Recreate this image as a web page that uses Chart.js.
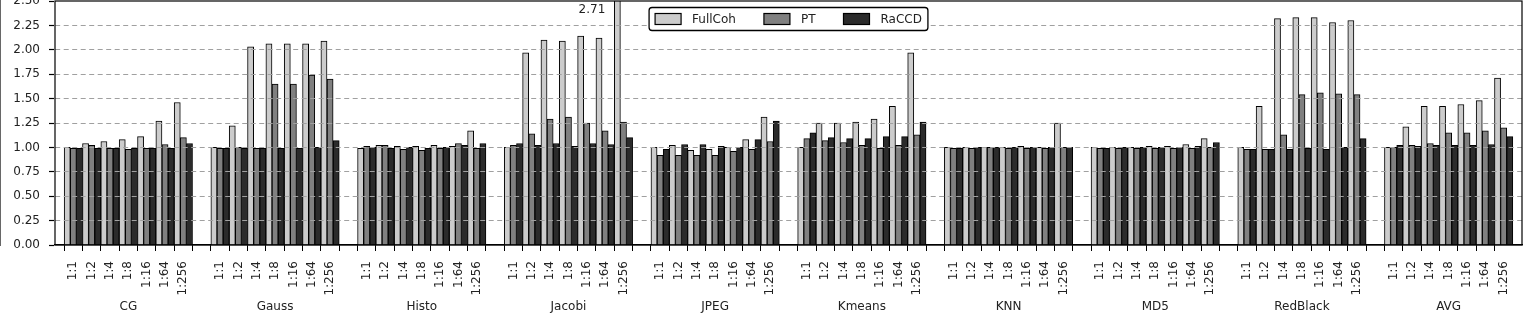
<!DOCTYPE html>
<html>
<head>
<meta charset="utf-8">
<script src="https://cdn.jsdelivr.net/npm/chart.js@4.4.1/dist/chart.umd.min.js"></script>
<style>
  html, body { margin: 0; padding: 0; background: #fff; }
</style>
</head>
<body>
<canvas id="chart" width="1527" height="317"></canvas>
<script>
// Benchmarks and ratios on the x axis
const GROUPS = ['CG', 'Gauss', 'Histo', 'Jacobi', 'JPEG', 'Kmeans', 'KNN', 'MD5', 'RedBlack', 'AVG'];
const RATIOS = ['1:1', '1:2', '1:4', '1:8', '1:16', '1:64', '1:256'];
const Y_TICKS = [0, 0.25, 0.5, 0.75, 1, 1.25, 1.5, 1.75, 2, 2.25, 2.5];

// one row per benchmark, one value per ratio
const FULLCOH = [
  [1.00, 1.04, 1.06, 1.08, 1.11, 1.27, 1.46],
  [1.00, 1.22, 2.03, 2.06, 2.06, 2.06, 2.09],
  [0.99, 1.02, 1.01, 1.01, 1.02, 1.01, 1.17],
  [1.00, 1.97, 2.10, 2.09, 2.14, 2.12, 2.71],
  [1.00, 1.02, 0.97, 0.98, 1.00, 1.08, 1.31],
  [1.00, 1.25, 1.25, 1.26, 1.29, 1.42, 1.97],
  [1.00, 1.00, 1.00, 1.00, 1.01, 1.00, 1.25],
  [1.00, 1.00, 1.00, 1.01, 1.01, 1.03, 1.09],
  [1.00, 1.42, 2.32, 2.33, 2.33, 2.28, 2.30],
  [1.00, 1.21, 1.42, 1.42, 1.44, 1.48, 1.71]
];
const PT = [
  [0.99, 1.02, 0.99, 0.98, 0.99, 1.03, 1.10],
  [0.99, 1.00, 0.99, 1.65, 1.65, 1.74, 1.70],
  [1.01, 1.02, 0.98, 0.97, 0.99, 1.04, 0.99],
  [1.02, 1.14, 1.29, 1.31, 1.25, 1.17, 1.26],
  [0.92, 0.92, 0.92, 0.92, 0.96, 0.98, 1.06],
  [1.09, 1.07, 1.05, 1.02, 0.99, 1.02, 1.13],
  [0.99, 0.99, 1.00, 0.99, 0.99, 0.99, 1.00],
  [0.99, 0.99, 0.99, 0.99, 0.99, 0.99, 1.00],
  [0.98, 0.98, 1.13, 1.54, 1.56, 1.55, 1.54],
  [1.00, 1.02, 1.04, 1.15, 1.15, 1.17, 1.20]
];
const RACCD = [
  [0.99, 0.99, 0.99, 0.99, 0.99, 0.99, 1.04],
  [0.99, 0.99, 0.99, 0.99, 0.99, 1.00, 1.07],
  [1.00, 0.99, 1.00, 0.99, 1.00, 1.02, 1.04],
  [1.04, 1.02, 1.04, 1.01, 1.04, 1.03, 1.10],
  [0.98, 1.03, 1.03, 1.01, 1.00, 1.08, 1.27],
  [1.15, 1.10, 1.09, 1.09, 1.11, 1.11, 1.26],
  [0.99, 1.00, 1.00, 1.00, 1.00, 1.00, 1.00],
  [0.99, 1.00, 1.00, 1.00, 1.00, 1.01, 1.05],
  [0.98, 0.98, 0.98, 0.99, 0.98, 1.00, 1.09],
  [1.02, 1.01, 1.02, 1.02, 1.02, 1.03, 1.11]
];

const FONT = '"DejaVu Sans", "Liberation Sans", sans-serif';
const INK = '#222';

// slot layout: empty slot at each edge and between benchmarks
const labels = [''];
const groupLabels = [''];
GROUPS.forEach((g, gi) => {
  RATIOS.forEach((r, k) => { labels.push(r); groupLabels.push(k === 3 ? g : ''); });
  if (gi < GROUPS.length - 1) { labels.push(''); groupLabels.push(''); }
});
labels.push(''); groupLabels.push('');

const flatten = (rows) => {
  const out = [null];
  rows.forEach((r, gi) => { out.push(...r); if (gi < rows.length - 1) out.push(null); });
  out.push(null);
  return out;
};

// box round the plot
const framePlugin = {
  id: 'frame',
  afterDraw(chart) {
    const { ctx, chartArea: a } = chart;
    ctx.save();
    ctx.strokeStyle = '#000';
    ctx.lineWidth = 1.2;
    ctx.strokeRect(a.left, a.top, a.right - a.left, a.bottom - a.top);
    ctx.restore();
  }
};

// value text next to bars cut by the top of the axis
const clipNotePlugin = {
  id: 'clipNote',
  afterDatasetsDraw(chart) {
    const { ctx } = chart;
    const max = chart.scales.y.max;
    ctx.save();
    ctx.font = '12px ' + FONT;
    ctx.fillStyle = INK;
    ctx.textAlign = 'right';
    ctx.textBaseline = 'middle';
    chart.data.datasets.forEach((ds, di) => {
      const meta = chart.getDatasetMeta(di);
      ds.data.forEach((v, i) => {
        if (v != null && v > max) {
          const bar = meta.data[i];
          ctx.fillText(v.toFixed(2), bar.x - bar.width / 2 - 9, chart.chartArea.top + 9);
        }
      });
    });
    ctx.restore();
  }
};

// legend in a rounded box at the top centre of the plot
const boxLegendPlugin = {
  id: 'boxLegend',
  afterDraw(chart) {
    const { ctx, chartArea: a } = chart;
    ctx.save();
    ctx.font = '12px ' + FONT;
    const sw = 26, sh = 11, gapIn = 11, gapOut = 28, padX = 6, h = 23;
    const items = chart.data.datasets.map(d => ({ label: d.label, color: d.backgroundColor, w: ctx.measureText(d.label).width }));
    const w = padX * 2 + items.reduce((s, it) => s + sw + gapIn + it.w, 0) + gapOut * (items.length - 1);
    const x0 = (a.left + a.right) / 2 - w / 2;
    const y0 = a.top + 6.5;
    ctx.beginPath();
    ctx.roundRect(x0, y0, w, h, 3);
    ctx.fillStyle = '#fff';
    ctx.fill();
    ctx.lineWidth = 1.3;
    ctx.strokeStyle = '#000';
    ctx.stroke();
    let x = x0 + padX;
    ctx.textBaseline = 'middle';
    items.forEach(it => {
      ctx.fillStyle = it.color;
      ctx.fillRect(x, y0 + (h - sh) / 2, sw, sh);
      ctx.lineWidth = 1.2;
      ctx.strokeRect(x, y0 + (h - sh) / 2, sw, sh);
      ctx.fillStyle = INK;
      ctx.fillText(it.label, x + sw + gapIn, y0 + h / 2 + 0.5);
      x += sw + gapIn + it.w + gapOut;
    });
    ctx.restore();
  }
};

const barStyle = { borderColor: '#000', borderWidth: 1, categoryPercentage: 1.0, barPercentage: 1.0 };

new Chart(document.getElementById('chart'), {
  type: 'bar',
  data: {
    labels,
    datasets: [
      { label: 'FullCoh', data: flatten(FULLCOH), backgroundColor: '#cccccc', ...barStyle },
      { label: 'PT', data: flatten(PT), backgroundColor: '#808080', ...barStyle },
      { label: 'RaCCD', data: flatten(RACCD), backgroundColor: '#2b2b2b', ...barStyle }
    ]
  },
  options: {
    responsive: false,
    animation: false,
    layout: { padding: { left: 0, right: 5, top: 1, bottom: 0 } },
    plugins: { legend: { display: false }, tooltip: { enabled: false } },
    scales: {
      x: {
        type: 'category',
        offset: false,
        grid: {
          drawOnChartArea: false, drawTicks: true, tickLength: 6, tickWidth: 1,
          tickColor: (c) => (c.index === 0 || c.index === labels.length - 1) ? 'rgba(0,0,0,0)' : '#000'
        },
        border: { color: '#000', width: 1.2 },
        ticks: { autoSkip: false, minRotation: 90, maxRotation: 90, padding: 10, color: INK, font: { family: FONT, size: 12 } },
        afterFit: (s) => { s.height = 55; s.paddingLeft = 0; s.paddingRight = 0; }
      },
      x2: {
        type: 'category',
        labels: groupLabels,
        position: 'bottom',
        offset: false,
        grid: { display: false, drawTicks: false },
        border: { display: false },
        ticks: { autoSkip: false, minRotation: 0, maxRotation: 0, padding: 0, color: INK, font: { family: FONT, size: 12 } },
        afterFit: (s) => { s.height = 17; s.paddingLeft = 0; s.paddingRight = 0; }
      },
      y: {
        min: 0,
        max: 2.5,
        afterBuildTicks: (s) => { s.ticks = Y_TICKS.map(v => ({ value: v })); },
        grid: {
          z: 1,
          color: (c) => (c.tick && (c.tick.value === 0 || c.tick.value === 2.5)) ? 'rgba(0,0,0,0)' : '#a0a0a0',
          lineWidth: 1,
          tickLength: 6, tickColor: '#000', tickWidth: 1.2, tickBorderDash: []
        },
        border: { color: '#000', width: 1.2, dash: [5, 3.5] },
        ticks: { padding: 9, color: INK, font: { family: FONT, size: 12 }, callback: (v) => Number(v).toFixed(2) },
        afterFit: (s) => { s.width = 55; s.paddingTop = 0; s.paddingBottom = 0; }
      }
    }
  },
  plugins: [framePlugin, clipNotePlugin, boxLegendPlugin]
});
</script>
</body>
</html>
